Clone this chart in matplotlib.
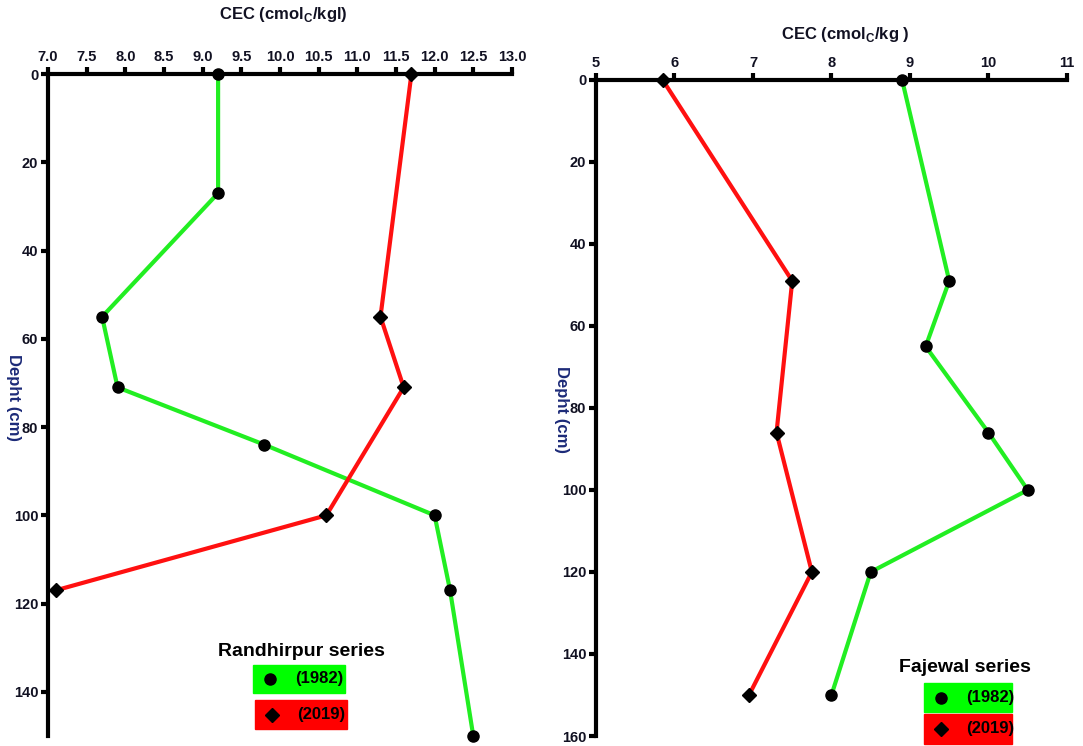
import matplotlib
matplotlib.use('Agg')
import matplotlib.pyplot as plt
from matplotlib.patches import Rectangle

plt.rcParams['font.family'] = ['Liberation Sans Narrow', 'Liberation Sans', 'DejaVu Sans']
plt.rcParams['font.weight'] = 'bold'

# Randhirpur series
r_depth_82 = [0, 27, 55, 71, 84, 100, 117, 150]
r_cec_82 = [9.2, 9.2, 7.7, 7.9, 9.8, 12.0, 12.2, 12.5]
r_depth_19 = [0, 55, 71, 100, 117]
r_cec_19 = [11.7, 11.3, 11.6, 10.6, 7.1]

# Fajewal series
f_depth_82 = [0, 49, 65, 86, 100, 120, 150]
f_cec_82 = [8.9, 9.5, 9.2, 10.0, 10.5, 8.5, 8.0]
f_depth_19 = [0, 49, 86, 120, 150]
f_cec_19 = [5.85, 7.5, 7.3, 7.75, 6.95]

green = '#22ee22'
red = '#ff1010'
dark = '#111122'
blue = '#1c2a78'

fig = plt.figure(figsize=(10.83, 7.46), dpi=100)
ax1 = fig.add_axes([0.0443, 0.0134, 0.4284, 0.8874])
ax2 = fig.add_axes([0.5503, 0.0134, 0.4349, 0.8794])


def style(ax, xlim, ylim, xticks, yticks, xfmt):
    ax.set_xlim(*xlim)
    ax.set_ylim(ylim[1], ylim[0])
    ax.set_xticks(xticks)
    ax.set_xticklabels([xfmt.format(v) for v in xticks])
    ax.set_yticks(yticks)
    ax.xaxis.tick_top()
    for s in ['right', 'bottom']:
        ax.spines[s].set_visible(False)
    for s in ['left', 'top']:
        ax.spines[s].set_linewidth(3)
    ax.tick_params(axis='both', width=3, length=5, labelsize=10.5, pad=2)
    for lab in ax.get_xticklabels() + ax.get_yticklabels():
        lab.set_fontweight('bold')
        lab.set_color(dark)


style(ax1, (7.0, 13.0), (0, 150), [7.0 + 0.5 * i for i in range(13)],
      [0, 20, 40, 60, 80, 100, 120, 140], '{:.1f}')
style(ax2, (5, 11), (0, 160), [5, 6, 7, 8, 9, 10, 11],
      [0, 20, 40, 60, 80, 100, 120, 140, 160], '{:d}')

ax1.plot(r_cec_82, r_depth_82, color=green, lw=3, marker='o', ms=8,
         mfc='black', mec='black', clip_on=False, zorder=3)
ax1.plot(r_cec_19, r_depth_19, color=red, lw=3, marker='D', ms=7,
         mfc='black', mec='black', clip_on=False, zorder=3)
ax2.plot(f_cec_82, f_depth_82, color=green, lw=3, marker='o', ms=8,
         mfc='black', mec='black', clip_on=False, zorder=3)
ax2.plot(f_cec_19, f_depth_19, color=red, lw=3, marker='D', ms=7,
         mfc='black', mec='black', clip_on=False, zorder=3)

# axis titles
fig.text(283 / 1083, 1 - 15 / 746, r'CEC (cmol$_\mathregular{C}$/kgl)', ha='center', va='center',
         fontsize=12, fontweight='bold', color=dark)
fig.text(845 / 1083, 1 - 35 / 746, r'CEC (cmol$_\mathregular{C}$/kg )', ha='center', va='center',
         fontsize=12, fontweight='bold', color=dark)
fig.text(13 / 1083, 1 - 398 / 746, 'Depht (cm)', rotation=-90, ha='center', va='center',
         fontsize=12, fontweight='bold', color=blue)
fig.text(562 / 1083, 1 - 410 / 746, 'Depht (cm)', rotation=-90, ha='center', va='center',
         fontsize=12, fontweight='bold', color=blue)


# legend boxes
def legend(title, tx, ty, boxes):
    fig.text(tx / 1083, 1 - ty / 746, title, ha='center', va='center',
             fontsize=14, fontweight='bold', color='black')
    for (x0, y0, w, h, col, mk, lab) in boxes:
        fig.add_artist(Rectangle((x0 / 1083, 1 - (y0 + h) / 746), w / 1083, h / 746,
                                 transform=fig.transFigure, color=col, zorder=5))
        fig.add_artist(plt.Line2D([(x0 + 17) / 1083], [1 - (y0 + h / 2) / 746], marker=mk,
                                  ms=8 if mk == 'o' else 7, color='black',
                                  transform=fig.transFigure, zorder=6))
        fig.text((x0 + 42) / 1083, 1 - (y0 + h / 2) / 746, lab, ha='left', va='center',
                 fontsize=12, fontweight='bold', color='black', zorder=6)


legend('Randhirpur series', 301, 652,
       [(253, 665, 92, 28, '#00ff00', 'o', '(1982)'),
        (255, 700, 92, 29, '#ff0000', 'D', '(2019)')])
legend('Fajewal series', 965, 668,
       [(924, 683, 88, 29, '#00ff00', 'o', '(1982)'),
        (924, 714, 88, 30, '#ff0000', 'D', '(2019)')])

fig.savefig('out.png', dpi=100)
